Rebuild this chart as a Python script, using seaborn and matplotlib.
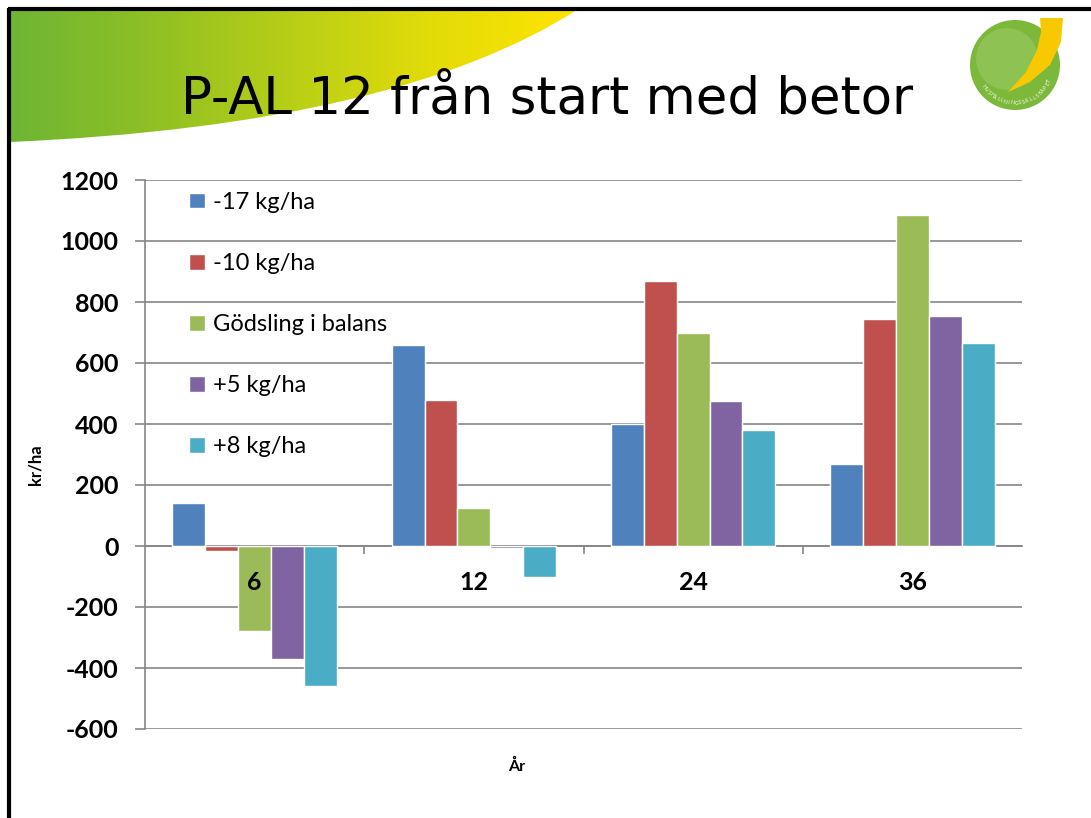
import numpy as np
import pandas as pd
import matplotlib
matplotlib.use("Agg")
import matplotlib.pyplot as plt
import seaborn as sns
from matplotlib.path import Path
from matplotlib.patches import PathPatch, Circle, Polygon
from matplotlib.colors import LinearSegmentedColormap

# ---- data ----
years = ["6", "12", "24", "36"]
series = ["-17 kg/ha", "-10 kg/ha", "Gödsling i balans", "+5 kg/ha", "+8 kg/ha"]
v_m17 = [140, 660, 400, 270]
v_m10 = [-16, 480, 870, 745]
v_bal = [-278, 125, 700, 1085]
v_p5 = [-372, -5, 475, 755]
v_p8 = [-460, -100, 380, 665]
colors = ["#4F81BD", "#C0504D", "#9BBB59", "#8064A2", "#4BACC6"]
yticks = [-600, -400, -200, 0, 200, 400, 600, 800, 1000, 1200]

values = [v_m17, v_m10, v_bal, v_p5, v_p8]
rows = []
for s, vals in zip(series, values):
    for y, v in zip(years, vals):
        rows.append({"År": y, "serie": s, "kr/ha": v})
df = pd.DataFrame(rows)

sns.set_theme(style="white")
plt.rcParams["font.family"] = ["Lato", "DejaVu Sans"]
plt.rcParams["text.color"] = "black"
plt.rcParams["xtick.labelcolor"] = "black"
plt.rcParams["ytick.labelcolor"] = "black"

W, H = 1091, 818
fig = plt.figure(figsize=(W / 100, H / 100), dpi=100)
fig.patch.set_facecolor("white")

# ---- background decoration (pixel coordinates) ----
bg = fig.add_axes([0, 0, 1, 1], zorder=-10)
bg.set_xlim(0, W)
bg.set_ylim(H, 0)
bg.axis("off")

verts = [(8, 8), (580, 8), (400, 125), (10, 142), (8, 142), (8, 8)]
codes = [Path.MOVETO, Path.LINETO, Path.CURVE3, Path.CURVE3, Path.LINETO, Path.CLOSEPOLY]
swoosh = PathPatch(Path(verts, codes), facecolor="none", edgecolor="none")
bg.add_patch(swoosh)
cmap = LinearSegmentedColormap.from_list("sw", ["#6db535", "#8fc024", "#b9cf16", "#e4dc08", "#ffe400"])
grad = np.linspace(0, 1, 256)[None, :]
im = bg.imshow(grad, extent=[8, 580, 150, 8], cmap=cmap, aspect="auto", zorder=1)
im.set_clip_path(swoosh)

bg.plot([9, 9], [8, H], color="black", lw=3, solid_capstyle="butt", zorder=5)
bg.plot([8, W], [9, 9], color="black", lw=3, solid_capstyle="butt", zorder=5)

bg.text(547, 99, "P-AL 12 från start med betor", fontsize=37, color="black",
        ha="center", va="center", family=["DejaVu Sans"], zorder=6)

# logo
cx, cy, r = 1015, 65, 45
bg.add_patch(Circle((cx, cy), r, facecolor="#7cb83a", edgecolor="none", zorder=3))
bg.add_patch(Circle((cx - 8, cy - 6), 31, facecolor="#8ec252", edgecolor="none", zorder=3))
bg.add_patch(Polygon([(1040, 18), (1063, 18), (1061, 42), (1050, 65), (1030, 82), (1008, 92),
                      (1026, 72), (1037, 50), (1041, 32)], closed=True, facecolor="#f8c800",
                     edgecolor="none", zorder=4))
logo_txt = "HUSHÅLLNINGSSÄLLSKAPET"
angs = np.linspace(np.deg2rad(-145), np.deg2rad(-25), len(logo_txt))
rr = 38
for ch, a in zip(logo_txt, angs):
    x = cx + rr * np.cos(a)
    y = cy - rr * np.sin(a)
    bg.text(x, y, ch, fontsize=3.6, color="white", ha="center", va="center",
            rotation=np.rad2deg(a) + 90, zorder=6)

# ---- chart ----
ax = fig.add_axes([145 / W, 1 - 729 / H, (1022 - 145) / W, (729 - 180) / H])
sns.barplot(data=df, x="År", y="kr/ha", hue="serie", order=years, hue_order=series,
            palette=colors, width=0.75, edgecolor="white", linewidth=1.0,
            saturation=1, ax=ax, zorder=2)

ax.set_ylim(-600, 1200)
ax.set_xlim(-0.5, 3.5)
ax.set_yticks(yticks)
ax.set_yticklabels([str(t) for t in yticks])
ax.yaxis.grid(True, color="#868686", lw=1.2, zorder=0)
ax.set_axisbelow(True)

for s in ["top", "right"]:
    ax.spines[s].set_visible(False)
ax.spines["left"].set_color("#868686")
ax.spines["left"].set_linewidth(1.2)
ax.spines["bottom"].set_position(("data", 0))
ax.spines["bottom"].set_color("#868686")
ax.spines["bottom"].set_linewidth(1.2)
ax.spines["bottom"].set_zorder(1)

ax.tick_params(axis="y", which="major", length=7, width=1.2, color="#868686", pad=12,
               labelsize=18, left=True, labelcolor="black")
for t in ax.get_yticklabels():
    t.set_fontweight("bold")
ax.tick_params(axis="x", which="major", length=0, pad=18, labelsize=18, labelcolor="black")
for t in ax.get_xticklabels():
    t.set_fontweight("bold")
ax.set_xticks([0.5, 1.5, 2.5], minor=True)
ax.tick_params(axis="x", which="minor", length=6, width=1.2, color="#868686", bottom=True)
ax.xaxis.set_zorder(5)

ax.set_xlabel("")
ax.set_ylabel("")
fig.text(35 / W, 1 - 465 / H, "kr/ha", rotation=90, fontsize=12, fontweight="bold",
         ha="center", va="center", color="black")
fig.text(517 / W, 1 - 766 / H, "År", fontsize=11.5, fontweight="bold", ha="center",
         va="center", color="black")

handles, labels = ax.get_legend_handles_labels()
leg = ax.legend(handles, labels, loc="upper left", bbox_to_anchor=(0.037, 1.0), frameon=False,
                fontsize=17, labelspacing=1.7, handlelength=0.65, handleheight=0.65,
                handletextpad=0.35, borderaxespad=0.1, labelcolor="black")

fig.savefig("out.png", dpi=100)
